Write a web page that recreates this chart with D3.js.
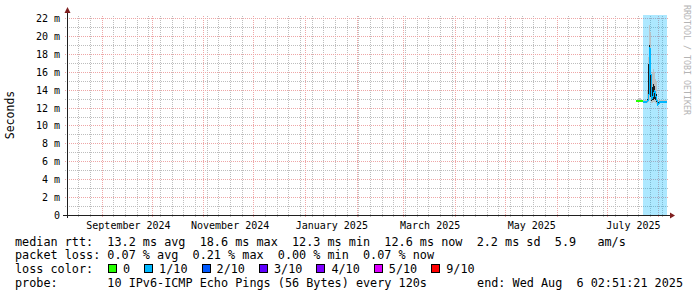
<!DOCTYPE html>
<html>
<head>
<meta charset="utf-8">
<script src="https://cdn.jsdelivr.net/npm/d3@7"></script>
<style>
  html, body { margin: 0; padding: 0; background: #fff; }
  svg { display: block; }
  text { font-family: "DejaVu Sans Mono", monospace; fill: #000; }
  .legend { font-size: 11.8px; white-space: pre; }
</style>
</head>
<body>
<svg id="chart" width="697" height="297"></svg>
<script>
// Graph window: smokeping "last 360 days" ending at the probe time.
const endTime = new Date(2025, 7, 6, 2, 51, 21);
const spanDays = 360;

// RRD samples (one consolidated step each, oldest first), values in ms.
const sampleStart = new Date(2025, 6, 18, 12, 27, 21);
const stepHours = 14.4;
const medianMs = [12.7, 12.7, 12.7, 12.7, 12.7, 12.7, 12.7, 12.6, 12.6, 12.6, 12.6, 12.7, 13.4, 18.6, 15.8, 13.0,
  13.2, 13.6, 13.8, 13.3, 12.9, 12.3, 12.4, 12.6, 12.6, 12.6, 12.6, 12.6, 12.6, 12.6, 12.6];
const minMs = [12.6, 12.6, 12.6, 12.6, 12.6, 12.6, 12.6, 12.5, 12.5, 12.5, 12.5, 12.5, 12.6, 12.8, 12.9, 12.5,
  12.5, 12.6, 12.6, 12.5, 12.4, 12.2, 12.3, 12.5, 12.5, 12.5, 12.5, 12.5, 12.5, 12.5, 12.5];
const lowMs = [12.7, 12.7, 12.7, 12.7, 12.7, 12.7, 12.7, 12.6, 12.6, 12.6, 12.6, 12.6, 12.8, 13.6, 13.2, 12.7,
  12.8, 12.9, 13.0, 12.9, 12.6, 12.3, 12.4, 12.6, 12.6, 12.6, 12.6, 12.6, 12.6, 12.6, 12.6];
const highMs = [12.7, 12.7, 12.7, 12.7, 12.7, 12.7, 12.7, 12.6, 12.6, 12.6, 12.6, 13.0, 16.9, 19.0, 18.4, 14.0,
  14.3, 14.6, 14.4, 13.9, 13.5, 12.6, 12.6, 12.6, 12.6, 12.6, 12.6, 12.6, 12.6, 12.6, 12.6];
const maxMs = [12.8, 12.9, 13.0, 13.1, 13.1, 12.9, 12.8, 12.8, 12.8, 12.8, 12.9, 13.8, 17.6, 21.2, 20.4, 14.6,
  16.0, 16.3, 16.0, 15.2, 15.0, 13.0, 12.8, 12.8, 12.8, 12.8, 12.8, 12.8, 12.8, 12.8, 12.8];
const lossTenths = [0, 0, 0, 0, 0, 0, 0, 1, 1, 1, 1, 1, 1, 1, 1, 1,
  1, 1, 1, 1, 1, 1, 1, 1, 1, 1, 1, 1, 1, 1, 1];

// Axis settings and legend content.
const yMaxMs = 22.34;
const yTicks = [0, 2, 4, 6, 8, 10, 12, 14, 16, 18, 20, 22];
const lossLevels = [0, 1, 2, 3, 4, 5, 9];
const lossLabels = ["0", "1/10", "2/10", "3/10", "4/10", "5/10", "9/10"];
const lossColors = ["#26ff00", "#00b8ff", "#0059ff", "#5e00ff", "#7e00ff", "#dd00ff", "#ff0000"];
const rttLine = "median rtt:  13.2 ms avg  18.6 ms max  12.3 ms min  12.6 ms now  2.2 ms sd  5.9   am/s";
const lossLine = "packet loss: 0.07 % avg  0.21 % max  0.00 % min  0.07 % now";
const probeLine = "probe:       10 IPv6-ICMP Echo Pings (56 Bytes) every 120s";
const endLine = "end: Wed Aug  6 02:51:21 2025";

const svg = d3.select("#chart");
const plot = { left: 67, top: 15, width: 600, height: 200 };
const startTime = d3.timeDay.offset(endTime, -spanDays);

const x = d3.scaleTime().domain([startTime, endTime]).range([plot.left, plot.left + plot.width]);
const y = d3.scaleLinear().domain([0, yMaxMs]).range([plot.top + plot.height, plot.top]);
const px = (v) => Math.round(v) + 0.5;

// Build sample rows; an extra closing row lets step areas reach the last step end.
const stepMs = stepHours * 3600 * 1000;
const samples = medianMs.map((m, i) => ({
  t: new Date(sampleStart.getTime() + i * stepMs),
  median: m,
  min: minMs[i],
  low: lowMs[i],
  high: highMs[i],
  max: maxMs[i],
  loss: lossTenths[i],
}));
const closing = Object.assign({}, samples[samples.length - 1], {
  t: new Date(samples[samples.length - 1].t.getTime() + stepMs),
});
const stepRows = samples.concat([closing]);

function lossColor(loss) {
  let idx = 0;
  lossLevels.forEach((lv, i) => {
    if (loss >= lv) idx = i;
  });
  return lossColors[idx];
}

/**
 * Draws the dotted minor / major grid of the rrdtool canvas.
 */
function drawGrid() {
  const g = svg.append("g").attr("class", "grid").attr("shape-rendering", "crispEdges");
  const y0 = plot.top + plot.height;
  const x1 = plot.left + plot.width;
  const minorColor = "#bdbdbd";
  const majorColor = "#eea6a6";

  // Minor: weekly verticals and 1 ms horizontals.
  const weeks = d3.timeSunday.range(startTime, endTime);
  g.selectAll("line.vminor")
    .data(weeks)
    .join("line")
    .attr("x1", (d) => px(x(d)))
    .attr("x2", (d) => px(x(d)))
    .attr("y1", y0 + 2)
    .attr("y2", plot.top)
    .attr("stroke", minorColor)
    .attr("stroke-dasharray", "1,1");
  const minorMs = d3.range(1, yMaxMs, 2);
  g.selectAll("line.hminor")
    .data(minorMs)
    .join("line")
    .attr("x1", plot.left - 2)
    .attr("x2", x1 + 2)
    .attr("y1", (d) => px(y(d)))
    .attr("y2", (d) => px(y(d)))
    .attr("stroke", minorColor)
    .attr("stroke-dasharray", "1,1");

  // Major: month verticals and 2 ms horizontals.
  const months = d3.timeMonth.range(startTime, endTime);
  g.selectAll("line.vmajor")
    .data(months)
    .join("line")
    .attr("x1", (d) => px(x(d)))
    .attr("x2", (d) => px(x(d)))
    .attr("y1", y0 + 2)
    .attr("y2", plot.top)
    .attr("stroke", majorColor)
    .attr("stroke-dasharray", "1,1");
  g.selectAll("line.hmajor")
    .data(yTicks.filter((v) => v > 0))
    .join("line")
    .attr("x1", plot.left - 2)
    .attr("x2", x1 + 2)
    .attr("y1", (d) => px(y(d)))
    .attr("y2", (d) => px(y(d)))
    .attr("stroke", majorColor)
    .attr("stroke-dasharray", "1,1");
}

/**
 * Loss background, smoke bands and the loss-coloured median line.
 */
function drawData() {
  const g = svg.append("g").attr("class", "data").attr("shape-rendering", "crispEdges");

  // Light background wherever pings were lost.
  g.selectAll("rect.lossbg")
    .data(samples.filter((d) => d.loss > 0))
    .join("rect")
    .attr("x", (d) => Math.round(x(d.t)))
    .attr("width", (d) => Math.round(x(new Date(d.t.getTime() + stepMs))) - Math.round(x(d.t)))
    .attr("y", plot.top)
    .attr("height", plot.height)
    .attr("fill", (d) => lossColor(d.loss))
    .attr("fill-opacity", 0.32);

  // Smoke: outer spread and dense core.
  const band = (lo, hi) =>
    d3.area()
      .curve(d3.curveStepAfter)
      .x((d) => x(d.t))
      .y0((d) => y(d[lo]))
      .y1((d) => y(d[hi]));
  g.append("path").attr("d", band("min", "max")(stepRows)).attr("fill", "#bdbdbd").attr("fill-opacity", 0.85);
  g.append("path").attr("d", band("low", "high")(stepRows)).attr("fill", "#1e1e1e");

  // Median: thin risers between steps, then a 2px tread per sample in its loss colour.
  g.selectAll("path.riser")
    .data(samples.slice(1))
    .join("path")
    .attr("class", "riser")
    .attr("d", (d, i) => `M${px(x(d.t))},${y(samples[i].median)}V${y(d.median)}`)
    .attr("fill", "none")
    .attr("stroke", (d) => lossColor(d.loss))
    .attr("stroke-width", 1);
  g.selectAll("path.tread")
    .data(samples)
    .join("path")
    .attr("class", "tread")
    .attr("d", (d) => `M${x(d.t)},${y(d.median)}H${x(new Date(d.t.getTime() + stepMs))}`)
    .attr("fill", "none")
    .attr("stroke", (d) => lossColor(d.loss))
    .attr("stroke-width", 2);
}

/**
 * Axes, arrows, tick labels and the unit label.
 */
function drawAxes() {
  const g = svg.append("g").attr("class", "axes");
  const y0 = plot.top + plot.height;
  const x1 = plot.left + plot.width;

  g.append("line")
    .attr("x1", plot.left - 4)
    .attr("x2", x1 + 4)
    .attr("y1", y0 + 0.5)
    .attr("y2", y0 + 0.5)
    .attr("stroke", "#1f1f1f")
    .attr("shape-rendering", "crispEdges");
  g.append("line")
    .attr("x1", plot.left + 0.5)
    .attr("x2", plot.left + 0.5)
    .attr("y1", y0 + 3)
    .attr("y2", plot.top - 4)
    .attr("stroke", "#1f1f1f")
    .attr("shape-rendering", "crispEdges");

  // Arrow heads.
  g.append("path")
    .attr("d", `M${x1 + 3},${y0 - 2.5}L${x1 + 8},${y0 + 0.5}L${x1 + 3},${y0 + 3.5}Z`)
    .attr("fill", "#7f1f1f");
  g.append("path")
    .attr("d", `M${plot.left - 2.5},${plot.top - 2}L${plot.left + 0.5},${plot.top - 8}L${plot.left + 3.5},${plot.top - 2}Z`)
    .attr("fill", "#7f1f1f");

  // Y tick labels.
  g.selectAll("text.ylab")
    .data(yTicks)
    .join("text")
    .attr("x", plot.left - 7)
    .attr("y", (d) => Math.round(y(d)) + 4)
    .attr("text-anchor", "end")
    .style("font-size", "10px")
    .text((d) => (d === 0 ? "0" : `${d} m`));

  // Month labels every two months, centred mid-month.
  const labelMonths = d3.timeMonth.every(2).range(startTime, endTime);
  const fmt = d3.timeFormat("%B %Y");
  g.selectAll("text.xlab")
    .data(labelMonths)
    .join("text")
    .attr("x", (d) => x(d3.timeDay.offset(d, 16)))
    .attr("y", y0 + 14)
    .attr("text-anchor", "middle")
    .style("font-size", "10px")
    .text((d) => fmt(d));

  // Unit label.
  g.append("text")
    .attr("transform", `translate(14,${plot.top + plot.height / 2}) rotate(-90)`)
    .attr("text-anchor", "middle")
    .style("font-size", "11.5px")
    .text("Seconds");

  // Watermark on the right.
  g.append("text")
    .attr("transform", "translate(684,5) rotate(90)")
    .attr("text-anchor", "start")
    .attr("textLength", 110)
    .attr("lengthAdjust", "spacingAndGlyphs")
    .style("font-size", "8.6px")
    .style("fill", "#b4b4b4")
    .text("RRDTOOL / TOBI OETIKER");
}

/**
 * Statistic lines and the loss colour key under the graph.
 */
function drawLegend() {
  const g = svg.append("g").attr("class", "legend-block");
  const left = 15;
  const rows = [245.5, 259.3, 273.1, 286.9];

  g.append("text").attr("class", "legend").attr("x", left).attr("y", rows[0]).text(rttLine);
  g.append("text").attr("class", "legend").attr("x", left).attr("y", rows[1]).text(lossLine);
  g.append("text").attr("class", "legend").attr("x", left).attr("y", rows[2]).text("loss color:");
  g.append("text").attr("class", "legend").attr("x", left).attr("y", rows[3]).text(probeLine);
  g.append("text")
    .attr("class", "legend")
    .attr("x", 683)
    .attr("y", rows[3])
    .attr("text-anchor", "end")
    .text(endLine);

  // Colour key: swatch then label, laid out left to right.
  let cx = 108;
  lossLabels.forEach((lab, i) => {
    g.append("rect")
      .attr("x", cx + 0.5)
      .attr("y", rows[2] - 8.5)
      .attr("width", 8)
      .attr("height", 8)
      .attr("fill", lossColors[i])
      .attr("stroke", "#000")
      .attr("shape-rendering", "crispEdges");
    const t = g.append("text").attr("class", "legend").attr("x", cx + 15).attr("y", rows[2]).text(lab);
    cx = cx + 15 + t.node().getComputedTextLength() + 14;
  });
}

drawGrid();
drawData();
drawAxes();
drawLegend();
</script>
</body>
</html>
